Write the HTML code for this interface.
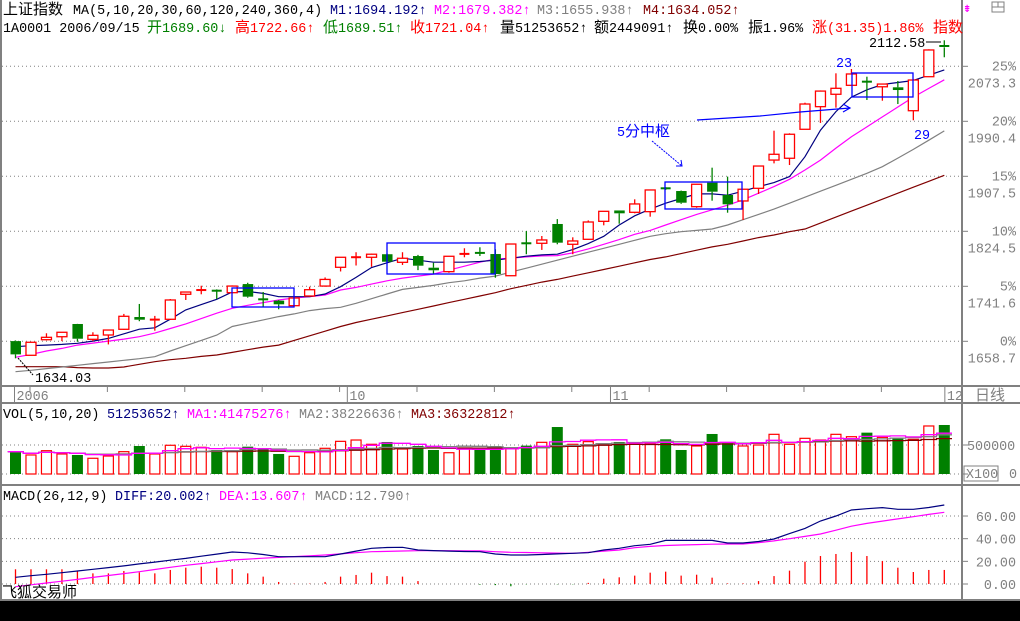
<!DOCTYPE html>
<html><head><meta charset="utf-8"><style>
body{margin:0;background:#fff;width:1020px;height:621px;overflow:hidden}
svg{display:block}
text{font-family:"Liberation Mono","Noto Sans CJK SC",monospace;font-size:13.4px}
.c{font-family:"Noto Sans CJK SC","WenQuanYi Zen Hei",sans-serif;font-size:15px}
</style></head><body>
<svg id="chart" width="1020" height="621" viewBox="0 0 1020 621" xmlns="http://www.w3.org/2000/svg">
<rect x="0" y="0" width="1020" height="621" fill="#fff"/>
<rect x="0" y="601" width="1020" height="20" fill="#000"/>
<g id="grid"></g>
<g id="frame" stroke="#808080" stroke-width="2" fill="none">
<line x1="1" y1="0" x2="1" y2="601"/>
<line x1="962" y1="0" x2="962" y2="601"/>
<line x1="0" y1="386" x2="1020" y2="386"/>
<line x1="0" y1="403" x2="1020" y2="403"/>
<line x1="0" y1="485" x2="1020" y2="485"/>
<line x1="0" y1="600" x2="1020" y2="600"/>
</g>
<g id="marks"></g>
<g id="annot">
<rect x="232" y="288" width="62" height="19" fill="none" stroke="#0000ff" stroke-width="1.3"/>
<rect x="387" y="243" width="108" height="31" fill="none" stroke="#0000ff" stroke-width="1.3"/>
<rect x="665" y="182" width="77" height="27" fill="none" stroke="#0000ff" stroke-width="1.3"/>
<rect x="852" y="73" width="61" height="24" fill="none" stroke="#0000ff" stroke-width="1.3"/>
<polyline points="697,120 760,116 800,112 850,108" fill="none" stroke="#0000ff" stroke-width="1.2"/>
<polyline points="843,104 850,108 843,112" fill="none" stroke="#0000ff" stroke-width="1.2"/>
<line x1="652" y1="141" x2="682" y2="166" stroke="#0000ff" stroke-width="1" stroke-dasharray="2,1"/>
<polyline points="676,166 682,166 681,160" fill="none" stroke="#0000ff" stroke-width="1"/>
<text x="617" y="136" fill="#0000ff"><tspan>5</tspan><tspan class="c">分中枢</tspan></text>
<text x="836" y="67" fill="#0000ff" font-size="15">23</text>
<text x="914" y="139" fill="#0000ff" font-size="15">29</text>
<text x="869" y="47" fill="#000">2112.58</text>
<line x1="926" y1="42" x2="941" y2="42" stroke="#000" stroke-width="1"/>
<text x="35" y="382" fill="#000">1634.03</text>
<line x1="18" y1="358" x2="33" y2="375" stroke="#000" stroke-width="1" stroke-dasharray="2,1"/>
</g>
<g>
<text x="3" y="14"><tspan class="c">上证指数</tspan><tspan x="73">MA(5,10,20,30,60,120,240,360,4)</tspan></text>
<text x="330" y="14" fill="#000080">M1:1694.192↑</text>
<text x="434" y="14" fill="#ff00ff">M2:1679.382↑</text>
<text x="537" y="14" fill="#808080">M3:1655.938↑</text>
<text x="643" y="14" fill="#800000">M4:1634.052↑</text>
<text x="3" y="32">1A0001 2006/09/15</text>
<text x="147" y="32" fill="#008000"><tspan class="c">开</tspan>1689.60↓</text>
<text x="235" y="32" fill="#ff0000"><tspan class="c">高</tspan>1722.66↑</text>
<text x="323" y="32" fill="#008000"><tspan class="c">低</tspan>1689.51↑</text>
<text x="410" y="32" fill="#ff0000"><tspan class="c">收</tspan>1721.04↑</text>
<text x="500" y="32"><tspan class="c">量</tspan>51253652↑</text>
<text x="594" y="32"><tspan class="c">额</tspan>2449091↑</text>
<text x="683" y="32"><tspan class="c">换</tspan>0.00%</text>
<text x="748" y="32"><tspan class="c">振</tspan>1.96%</text>
<text x="812" y="32" fill="#ff0000"><tspan class="c">涨</tspan>(31.35)1.86%</text>
<text x="933" y="32" fill="#ff0000" class="c">指数</text>
<text x="963" y="12" fill="#ff00ff" font-size="12">⇟</text>
<rect x="992" y="2" width="12" height="10" fill="none" stroke="#808080"/>
<line x1="992" y1="7" x2="1004" y2="7" stroke="#808080"/><line x1="998" y1="2" x2="998" y2="7" stroke="#808080"/>
</g>
<g>
<text x="3" y="418">VOL(5,10,20)</text>
<text x="107" y="418" fill="#000080">51253652↑</text>
<text x="187" y="418" fill="#ff00ff">MA1:41475276↑</text>
<text x="299" y="418" fill="#808080">MA2:38226636↑</text>
<text x="411" y="418" fill="#800000">MA3:36322812↑</text>
</g>
<g>
<text x="3" y="500">MACD(26,12,9)</text>
<text x="115" y="500" fill="#000080">DIFF:20.002↑</text>
<text x="219" y="500" fill="#ff00ff">DEA:13.607↑</text>
<text x="315" y="500" fill="#808080">MACD:12.790↑</text>
<text x="2" y="597" class="c" fill="#000">飞狐交易师</text>
</g>
<g fill="#808080" id="raxis">
<text x="975" y="400" class="c" fill="#808080">日线</text>
<rect x="964" y="466" width="34" height="15" fill="none" stroke="#808080"/>
<text x="966" y="478">X100</text>
<text x="1009" y="478">0</text>
<text x="967" y="450">500000</text>
</g>
</svg>
<script>
const categories=[...Array(61).keys()];
const opens=[1659,1637.6,1661.1,1665.6,1684.8,1661.7,1668.2,1676.8,1695.3,1689.9,1691.9,1729.6,1735.5,1735,1732,1745,1722,1720,1712.4,1727,1742,1770.3,1784.5,1785.4,1790,1777.8,1787.3,1769.7,1763.7,1789.5,1792,1790.3,1757.6,1806.5,1806.5,1835.6,1805,1812.5,1839.6,1856,1853.2,1854.2,1889.4,1885.3,1861.7,1897.9,1879.3,1870.3,1889.4,1932,1934.7,1978.4,2012.5,2031.2,2044.7,2050.2,2042.5,2041.7,2006.4,2057.7,2104];
const highs=[1660,1658,1670.8,1672.3,1685,1672.3,1676,1700,1715,1697,1722.5,1733.5,1742.5,1737,1743,1747,1733,1721,1724,1741,1755,1785.4,1793,1791,1791,1793,1789,1777.2,1787,1799,1800.5,1797.4,1805.4,1825,1817.5,1843,1815.5,1841,1855,1856,1872.8,1887,1891,1886,1896,1920.5,1907,1888,1923,1976.3,1972.4,2018.5,2037,2062.8,2069.3,2057.7,2047,2051.2,2054,2099,2112.58];
const lows=[1633,1637,1660,1659,1658,1659,1654,1676,1689,1674.7,1691,1721,1729.6,1722.5,1731,1724.5,1710,1707,1711,1726,1741,1764,1773,1771,1778,1773.8,1766,1760,1762,1785.4,1787.3,1754.6,1757,1790,1796.5,1805,1790,1812,1833.6,1836,1851.7,1846.6,1887,1866,1860,1870.7,1852.6,1841.6,1880.8,1927,1924.5,1978.4,1988,2011,2044.7,2022.6,2021.5,2016.5,1992,2057.7,2087];
const closes=[1639,1657.2,1664.7,1672.3,1662.6,1667.7,1675.7,1696.4,1691.3,1691.4,1721,1733,1736,1734.5,1742,1726,1721.5,1714.5,1724,1736.5,1752,1785.4,1785.5,1790,1778.7,1783.9,1772.7,1765.8,1786.9,1790.5,1791.5,1760.2,1805.4,1806,1811.5,1807.4,1810,1838.6,1854.7,1851.7,1865.8,1886.9,1889,1867.7,1895.5,1884.3,1865.3,1888,1923,1940.7,1970.9,2016.5,2036,2040.2,2061.8,2050,2046.6,2037.6,2052.7,2098,2102];
const ma1=[1650.6,1652,1653,1654,1655.7,1659,1663,1670,1677,1679,1692,1706,1714,1722,1733,1734,1731,1726,1726,1726,1730,1741,1755,1770,1777,1784,1781,1778,1778,1778,1779,1781,1784,1787,1789,1790,1797,1806,1817,1834,1848,1858,1867,1874,1881,1881,1879,1885,1892,1898,1907,1937,1977,2005,2027,2038,2046,2049,2052,2060,2068];
const ma2=[1634.6,1639,1644,1648,1653,1656,1659,1662,1665.6,1671,1678,1685,1693,1701,1708.5,1713,1717,1721,1724,1726,1728.5,1736,1740,1745,1750,1754,1757,1760,1766,1772,1778,1782.8,1784,1786,1787.5,1788,1792,1798,1805,1812,1820,1826,1834,1842,1850,1857,1864,1872,1882,1892,1903,1917,1932,1950,1967,1982,1997,2012,2027,2040,2053];
const ma3=[1612.9,1615,1617.5,1620,1622.5,1625,1627.5,1630,1632.5,1635.5,1644,1652,1660,1668,1681,1686,1691,1696,1700,1705,1708,1710,1716,1723,1730,1737,1740,1743,1747,1750,1754,1757,1763,1769,1775,1781,1787,1793,1799,1805,1811,1817,1821,1824,1826,1828,1834,1842,1850,1858,1867,1876,1885,1894,1903,1912,1922,1935,1948,1962,1976];
const ma4=[1620.4,1620.4,1620.4,1620.4,1619,1618.4,1618.4,1620,1624,1628,1631,1633,1636,1638,1642,1646,1650,1653,1660,1667,1674,1681,1687,1692,1697,1702,1707,1712,1717,1722,1727,1732,1738,1743,1748,1752,1757,1762,1767,1772,1777,1782,1786,1791,1796,1801,1805,1810,1815,1819,1824,1828,1837,1846,1855,1864,1873,1882,1891,1900,1909];
const volumes=[385000,328000,402000,345000,328000,271000,310000,385000,483000,345000,495000,477000,460000,414000,385000,471000,443000,345000,305000,367000,443000,563000,586000,512000,552000,431000,483000,414000,367000,443000,425000,483000,443000,489000,546000,810000,512000,558000,512000,552000,529000,529000,598000,414000,483000,690000,546000,483000,500000,684000,512000,615000,586000,684000,643000,713000,632000,615000,598000,828000,845000];
const diff=[5.9,7.3,8.6,10,11.5,13,14.5,16,17.7,19.3,21,22.6,24.5,26.4,28.2,27.5,26,24.1,24.1,24.1,24.1,26.5,29,31.5,32.2,32.4,30,29.5,29,28.7,28.5,26.5,25.6,25.6,26,26.6,27.1,27.6,30,31.5,33.8,35,38.5,38.5,38.5,38.5,36.2,36.2,37.5,39.7,44.5,49.1,55.6,60,65.3,66.5,67.4,65.9,65.9,67.5,69.7];
const dea=[-2.4,-0.7,0.9,2.5,4.1,5.8,7.5,9.2,10.9,12.8,14.7,16.5,18,19.6,21.2,22,22.8,23.5,24.2,24.9,25.6,26.6,27.6,28.5,28.8,29.1,29.4,29.4,29.4,29.3,29.2,28.5,28,27.8,27.5,27.3,27.1,28,29,30,32,33.2,34,34.4,34.8,35.1,35.3,35.3,36.5,38,40,42,44.1,47.5,51,53.5,55.5,57.5,59.4,61.4,63.3];
const macdHist=[13,13,13,13,11.5,9.4,9.4,11.5,10.3,9.4,12.4,14.4,15.3,14.4,13.2,9.4,6.5,1.8,0.3,0.3,1.8,6.5,8,10,7,6.5,2.6,0,0,0,-0.6,-1,-2,-0.3,0,-0.3,-0.3,1,4.7,5.9,7.4,10,10.9,7.4,8.2,5.6,0.5,0.5,2.6,7,11.8,19.7,24.7,26.5,28.2,24.7,20.3,14.4,10.6,12.4,12.4];
const pctLabels=["0%","5%","10%","15%","20%","25%"];
const priceLabels=["1658.7","1741.6","1824.5","1907.5","1990.4","2073.3"];
const macdTicks=[0,20,40,60];
const monthLabels=[{i:0,t:"2006"},{i:21.5,t:"10"},{i:38.5,t:"11"},{i:60.1,t:"12"}];

const NS="http://www.w3.org/2000/svg";
const X=i=>15.5+i*15.48;
const base=1658.7;
const PY=p=>341.3-(p-base)*55/(base*0.05);
const VY=v=>474-v/500000*29;
const MY=m=>584-m*1.133;
function mk(tag,attrs,parent){const e=document.createElementNS(NS,tag);for(const k in attrs)e.setAttribute(k,attrs[k]);parent.appendChild(e);return e;}
const grid=document.getElementById('grid'),marks=document.getElementById('marks'),rax=document.getElementById('raxis');
pctLabels.forEach((t,k)=>{const p=base*(1+0.05*k);const y=PY(p);
 const l=mk('line',{x1:2,x2:962,y1:y,y2:y,stroke:'#808080','stroke-dasharray':'1,3'},grid);
 
 
 mk('line',{x1:962,x2:968,y1:y,y2:y,stroke:'#808080'},grid);
 const a=mk('text',{x:1016,y:y+4,'text-anchor':'end',fill:'#808080'},rax);a.textContent=t;
 
 
 const b=mk('text',{x:1016,y:y+21,'text-anchor':'end',fill:'#808080'},rax);b.textContent=priceLabels[k];
 
 
});
[0,500000].forEach(v=>{mk('line',{x1:2,x2:962,y1:VY(v),y2:VY(v),stroke:'#808080','stroke-dasharray':'1,3'},grid);mk('line',{x1:962,x2:968,y1:VY(v),y2:VY(v),stroke:'#808080'},grid);});
macdTicks.forEach(m=>{const y=MY(m);mk('line',{x1:2,x2:962,y1:y,y2:y,stroke:'#808080','stroke-dasharray':'1,3'},grid);mk('line',{x1:962,x2:968,y1:y,y2:y,stroke:'#808080'},grid);
 const t=mk('text',{x:1016,y:y+5,'text-anchor':'end',fill:'#808080'},rax);t.textContent=m.toFixed(2);
 
 
});
for(let i=1;i<61;i+=5){mk('line',{x1:X(i)-1,x2:X(i)-1,y1:387,y2:392,stroke:'#808080'},grid);}
monthLabels.forEach(m=>{const x=X(m.i)-1;mk('line',{x1:x,x2:x,y1:387,y2:402,stroke:'#808080'},grid);
 const t=mk('text',{x:x+2,y:400,fill:'#808080'},grid);t.textContent=m.t;
 
 
});
function line(arr,fy,color,name){const pts=arr.map((v,i)=>X(i)+','+fy(v).toFixed(1)).join(' ');
 const pl=mk('polyline',{points:pts,fill:'none',stroke:color,'stroke-width':1.2},marks);
 
 }
line(ma4,PY,'#800000','ma4-line');line(ma3,PY,'#808080','ma3-line');line(ma2,PY,'#ff00ff','ma2-line');line(ma1,PY,'#000080','ma1-line');
categories.forEach(i=>{const o=opens[i],c=closes[i],h=highs[i],l=lows[i],x=X(i);const up=c>=o;const col=up?'#ff0000':'#008000';
 const g=mk('g',{},marks);
 
 
 const top=PY(Math.max(o,c)),bot=PY(Math.min(o,c));
 mk('line',{x1:x,x2:x,y1:PY(h),y2:top,stroke:col,'stroke-width':1.3},g);
 mk('line',{x1:x,x2:x,y1:bot,y2:PY(l),stroke:col,'stroke-width':1.3},g);
 if(bot-top<1.5){mk('line',{x1:x-5,x2:x+5,y1:top,y2:top,stroke:col,'stroke-width':2},g);}
 else if(up){mk('rect',{x:x-5,y:top,width:10,height:bot-top,fill:'#fff',stroke:col,'stroke-width':1.3},g);}
 else{mk('rect',{x:x-5,y:top,width:10.5,height:bot-top,fill:col},g);}
});
categories.forEach(i=>{const x=X(i),v=volumes[i],up=closes[i]>=opens[i];const y=VY(v);
 const r=up?mk('rect',{x:x-5,y:y,width:10,height:474-y,fill:'#fff',stroke:'#ff0000','stroke-width':1.2},marks):mk('rect',{x:x-5.5,y:y,width:11,height:474-y,fill:'#008000'},marks);
 
 
});
function mavg(arr,n){return arr.map((v,i)=>{const s=arr.slice(Math.max(0,i-n+1),i+1);return s.reduce((a,b)=>a+b,0)/s.length;});}
[[20,'#800000','vol-ma3'],[10,'#808080','vol-ma2'],[5,'#ff00ff','vol-ma1']].forEach(([n,col,name])=>{const m=mavg(volumes,n);let d='';
 m.forEach((v,i)=>{const y=VY(v).toFixed(1);d+=(i?'L':'M')+(X(i)-7.7)+','+y+'L'+(X(i)+7.7)+','+y;});
 const p=mk('path',{d:d,fill:'none',stroke:col,'stroke-width':1.3},marks);
 
 });
categories.forEach(i=>{const v=macdHist[i];if(Math.abs(v)<0.05)return;const x=X(i);
 const b=mk('line',{x1:x,x2:x,y1:MY(0),y2:MY(v),stroke:v>=0?'#ff0000':'#008000','stroke-width':1.3},marks);
 
 });
line(dea,MY,'#ff00ff','dea-line');line(diff,MY,'#000080','diff-line');
</script>
</body></html>
